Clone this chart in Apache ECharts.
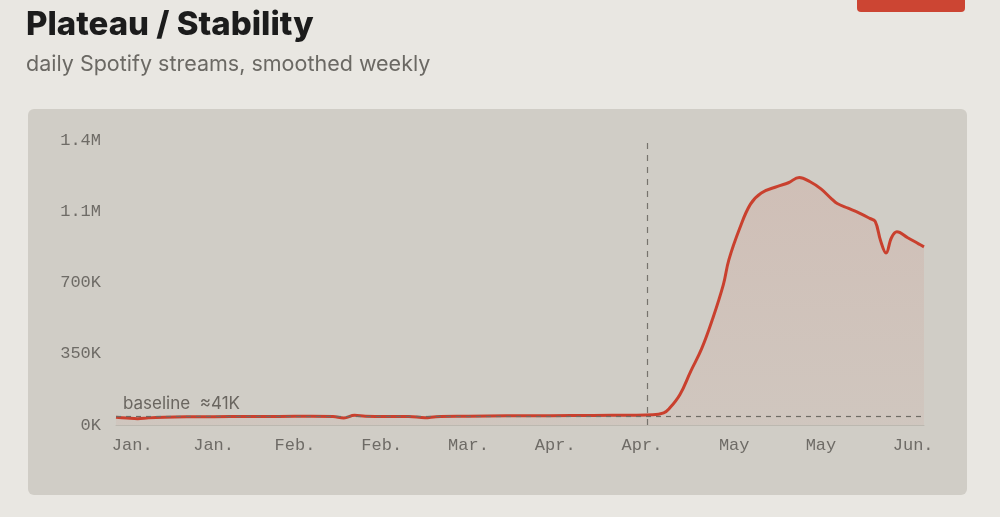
<!DOCTYPE html>
<html>
<head>
<meta charset="utf-8">
<script src="https://cdn.jsdelivr.net/npm/echarts@6/dist/echarts.min.js"></script>
<style>
  html, body { margin: 0; padding: 0; background: #e9e7e2; }
  #chart { width: 1000px; height: 517px; }
</style>
</head>
<body>
<div id="chart"></div>
<script>
// daily points, Jan 10 .. Jun 8 (index = day offset)
var dayCount = 150;
var tickDays = [3, 18, 33, 49, 65, 81, 97, 114, 130, 147];
var tickLabels = ['Jan.', 'Jan.', 'Feb.', 'Feb.', 'Mar.', 'Apr.', 'Apr.', 'May', 'May', 'Jun.'];

// sampled readings (day offset, streams)
var sampleDays = [0, 2, 4, 6, 9, 13, 18, 24, 30, 36, 40, 42, 44, 46, 50, 54, 57, 59, 65, 72, 80, 88, 95, 99,
    101, 102, 104, 106, 108, 110, 112, 113, 115, 117, 119, 122, 124, 126, 128, 130, 132, 133, 135, 137,
    139, 140, 141, 142, 143, 144, 146, 148, 149];
var streams = [38000, 34000, 31000, 35000, 38000, 40000, 41000, 42000, 42000, 43000, 42000, 35000, 48000, 43000,
    42000, 42000, 36000, 41000, 43000, 45000, 46000, 47000, 48000, 50000,
    60000, 80000, 150000, 265000, 375000, 520000, 690000, 810000, 965000, 1085000, 1140000, 1172000, 1190000,
    1216000, 1195000, 1160000, 1110000, 1088000, 1065000, 1042000,
    1015000, 1000000, 905000, 845000, 920000, 949000, 920000, 890000, 875000];

var baselineValue = 41000;
var releaseDay = 98;

var categories = [];
for (var i = 0; i < dayCount; i++) categories.push(String(i));

var points = sampleDays.map(function (d, k) { return [d, streams[k]]; });

var myChart = echarts.init(document.getElementById('chart'));
var option = {
    animation: false,
    graphic: [
        {
            type: 'rect',
            shape: { x: 28, y: 109, width: 939, height: 386, r: 6 },
            style: { fill: '#d0cdc6' },
            z: -10
        },
        {
            type: 'rect',
            shape: { x: 857, y: -6, width: 108, height: 18, r: 4 },
            style: { fill: '#cc4533' },
            z: -10
        }
    ],
    title: {
        text: 'Plateau / Stability',
        subtext: 'daily Spotify streams, smoothed weekly',
        left: 21,
        top: 4,
        itemGap: 12,
        textStyle: {
            fontFamily: 'Inter',
            fontWeight: 800,
            fontSize: 33,
            color: '#1c1c1c'
        },
        subtextStyle: {
            fontFamily: 'Inter',
            fontSize: 21.5,
            color: '#6b6964'
        }
    },
    grid: { left: 116, right: 76, top: 140, bottom: 92 },
    xAxis: {
        type: 'category',
        data: categories,
        boundaryGap: false,
        axisLine: { lineStyle: { color: '#bcb8b0', width: 1 } },
        axisTick: { show: false },
        axisLabel: {
            interval: function (index) { return tickDays.indexOf(index) >= 0; },
            formatter: function (value, index) { return tickLabels[tickDays.indexOf(index)]; },
            fontFamily: 'Liberation Mono',
            fontSize: 17,
            color: '#6e6b66',
            margin: 12
        },
        splitLine: { show: false }
    },
    yAxis: {
        type: 'value',
        min: 0,
        max: 1400000,
        interval: 350000,
        axisLine: { show: false },
        axisTick: { show: false },
        splitLine: { show: false },
        axisLabel: {
            fontFamily: 'Liberation Mono',
            fontSize: 17,
            color: '#6e6b66',
            margin: 15,
            formatter: function (v) {
                if (v >= 1000000) return (Math.round(v / 100000) / 10).toFixed(1) + 'M';
                return Math.round(v / 1000) + 'K';
            }
        }
    },
    series: [
        {
            name: 'streams',
            type: 'line',
            data: points,
            smooth: 0.4,
            showSymbol: false,
            lineStyle: { color: '#c9402e', width: 3 },
            itemStyle: { color: '#c9402e' },
            areaStyle: {
                color: {
                    type: 'linear', x: 0, y: 0, x2: 0, y2: 1,
                    colorStops: [
                        { offset: 0, color: 'rgba(204,70,50,0.15)' },
                        { offset: 1, color: 'rgba(204,70,50,0.07)' }
                    ]
                }
            },
            markLine: {
                silent: true,
                symbol: 'none',
                data: [
                    {
                        yAxis: baselineValue,
                        lineStyle: { color: '#6f6b65', type: [5, 5], width: 1.2 },
                        label: {
                            show: true,
                            position: 'insideStartTop',
                            formatter: 'baseline  ≈41K',
                            fontFamily: 'Inter',
                            fontSize: 17,
                            color: '#6a6660',
                            distance: [7, 4]
                        }
                    },
                    {
                        xAxis: releaseDay,
                        lineStyle: { color: '#77736d', type: [6, 6], width: 1.2 },
                        label: { show: false }
                    }
                ]
            }
        }
    ]
};
myChart.setOption(option);
window.addEventListener('resize', function () {
    myChart.resize();
});
</script>
</body>
</html>
